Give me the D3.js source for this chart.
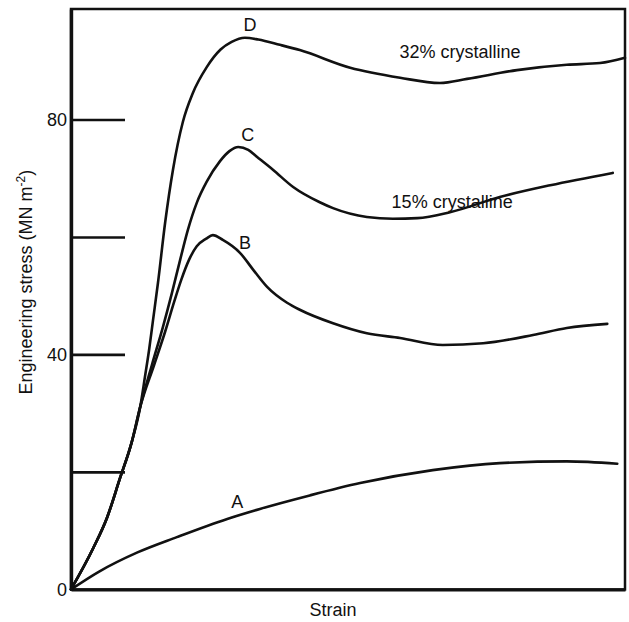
<!DOCTYPE html>
<html>
<head>
<meta charset="utf-8">
<script src="https://cdn.jsdelivr.net/npm/d3@7"></script>
<style>
  body { margin: 0; background: #fff; }
  svg text { font-family: "Liberation Sans", Arial, sans-serif; fill: #111; }
</style>
</head>
<body>
<svg id="chart" width="629" height="622"></svg>
<script>
// Stress-strain curves (strain in arbitrary units, stress in MN m^-2)
const strainA = [0, 5, 12, 19.1, 28.2, 34.1, 43.1, 52.2, 65.3, 77.4, 89.5, 98.6];
const stressA = [0, 3.0, 6.3, 8.9, 12.0, 13.7, 16.0, 18.1, 20.3, 21.5, 21.8, 21.4];

const strainB = [0, 4.0, 6.5, 8.8, 11.0, 12.5, 15.0, 17.0, 18.6, 19.9, 21.3, 22.7, 24.4, 25.6, 27.4, 30.5, 32.9, 35.4, 39.0, 41.3, 47.3, 53.4, 59.4, 67.1, 74.4, 83.4, 89.5, 96.8];
const stressB = [0, 7.0, 12.2, 18.8, 25.2, 31.1, 38.2, 43.9, 48.9, 52.7, 56.1, 58.4, 59.7, 60.3, 59.5, 57.3, 54.4, 51.5, 48.8, 47.6, 45.3, 43.6, 42.8, 41.6, 41.9, 43.3, 44.5, 45.2];

const strainC = [0, 4.0, 6.5, 8.8, 11.0, 12.5, 14.6, 16.6, 18.2, 19.7, 21.1, 22.7, 24.5, 26.9, 28.6, 30.2, 32.0, 33.6, 36.5, 40.1, 44.9, 47.3, 53.4, 58.1, 62.5, 68.4, 77.4, 86.5, 97.8];
const stressC = [0, 7.0, 12.2, 18.8, 25.2, 31.1, 38.2, 44.7, 50.4, 56.1, 61.2, 65.8, 69.4, 72.9, 74.6, 75.3, 74.8, 73.6, 71.4, 68.5, 65.9, 64.9, 63.4, 63.1, 63.2, 64.2, 66.8, 68.8, 70.9];

const strainD = [0, 4.0, 6.5, 8.8, 11.0, 12.5, 13.4, 14.1, 14.8, 15.7, 17.0, 18.4, 20.2, 22.0, 24.5, 27.0, 29.0, 31.4, 33.8, 37.7, 41.3, 50.4, 59.4, 66.6, 71.5, 80.5, 89.5, 95.5, 100];
const stressD = [0, 7.0, 12.2, 18.8, 25.2, 31.1, 36.5, 40.8, 45.8, 52.2, 62.5, 71.4, 79.6, 84.5, 88.9, 91.9, 93.2, 93.9, 93.6, 92.7, 91.8, 88.8, 87.1, 86.2, 86.9, 88.4, 89.3, 89.6, 90.5];

const curveNames = ["A", "B", "C", "D"];
const labelStrain = [30.0, 31.4, 31.9, 32.3];
const labelStress = [14.9, 59.0, 77.3, 96.0];

const stressTicks = [0, 20, 40, 60, 80];
const stressTickLabels = ["0", "", "40", "", "80"];

const notes = ["32% crystalline", "15% crystalline"];
const noteStrain = [70.2, 68.8];
const noteStress = [91.5, 65.9];

const svg = d3.select("#chart");
const margin = { top: 9, right: 4, bottom: 32.6, left: 71 };
const width = 629 - margin.left - margin.right;
const height = 622 - margin.top - margin.bottom;

const g = svg.append("g").attr("transform", `translate(${margin.left},${margin.top})`);

const x = d3.scaleLinear().domain([0, 100]).range([0, width]);
const y = d3.scaleLinear().domain([0, 98.8]).range([height, 0]);

// frame (top and right edges)
g.append("rect")
  .attr("x", 0).attr("y", 0)
  .attr("width", width).attr("height", height)
  .attr("fill", "none")
  .attr("stroke", "#111")
  .attr("stroke-width", 2.5);

// y axis with long inward ticks
const yAxis = g.append("g")
  .call(d3.axisLeft(y)
    .tickValues(stressTicks)
    .tickSize(-54)
    .tickSizeOuter(0)
    .tickFormat((d, i) => stressTickLabels[i]));
yAxis.select(".domain").attr("stroke", "#111").attr("stroke-width", 3.4);
yAxis.selectAll(".tick line").attr("stroke", "#111").attr("stroke-width", 2.6);
yAxis.selectAll(".tick").filter(d => d === 0).select("line").remove();
yAxis.selectAll(".tick text")
  .attr("x", -4)
  .attr("font-size", 18)
  .style("font-family", "Liberation Sans, Arial, sans-serif")
  .attr("fill", "#111");

// x axis: line only
const xAxis = g.append("g")
  .attr("transform", `translate(0,${height})`)
  .call(d3.axisBottom(x).tickValues([]).tickSizeOuter(0));
xAxis.select(".domain").attr("stroke", "#111").attr("stroke-width", 3);

// curves
const series = [
  [strainA, stressA],
  [strainB, stressB],
  [strainC, stressC],
  [strainD, stressD]
];

const line = d3.line()
  .x(d => x(d[0]))
  .y(d => y(d[1]))
  .curve(d3.curveMonotoneX);

series.forEach(([sx, sy]) => {
  g.append("path")
    .datum(sx.map((v, i) => [v, sy[i]]))
    .attr("d", line)
    .attr("fill", "none")
    .attr("stroke", "#111")
    .attr("stroke-width", 2.6)
    .attr("stroke-linejoin", "round")
    .attr("stroke-linecap", "round");
});

// curve labels
curveNames.forEach((name, i) => {
  g.append("text")
    .attr("x", x(labelStrain[i]))
    .attr("y", y(labelStress[i]))
    .attr("text-anchor", "middle")
    .attr("dominant-baseline", "central")
    .attr("font-size", 18)
    .text(name);
});

notes.forEach((t, i) => {
  g.append("text")
    .attr("x", x(noteStrain[i]))
    .attr("y", y(noteStress[i]))
    .attr("text-anchor", "middle")
    .attr("dominant-baseline", "central")
    .attr("font-size", 18)
    .text(t);
});

// axis titles
g.append("text")
  .attr("x", 333 - margin.left)
  .attr("y", height + 27)
  .attr("text-anchor", "middle")
  .attr("font-size", 18)
  .text("Strain");

const yTitle = g.append("text")
  .attr("transform", `translate(${-39},${y(52.3)}) rotate(-90)`)
  .attr("text-anchor", "middle")
  .attr("font-size", 18);
yTitle.append("tspan").text("Engineering stress  (MN m");
yTitle.append("tspan").attr("dy", -7).attr("font-size", 12).text("-2");
yTitle.append("tspan").attr("dy", 7).text(")");
</script>
</body>
</html>
